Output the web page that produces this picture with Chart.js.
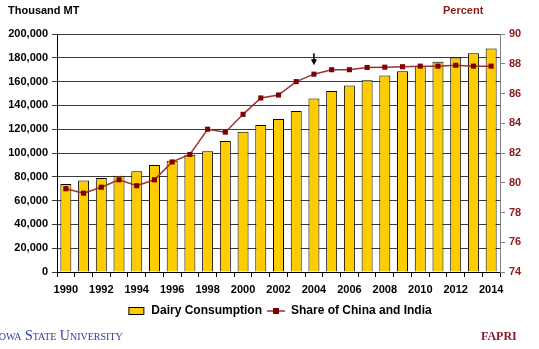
<!DOCTYPE html>
<html lang="en">
  <head>
    <meta charset="UTF-8" />
    <title>Dairy Consumption</title>
    <style>
      body {
        margin: 0;
        background-color: #ffffff;
        font-family: "Liberation Sans", Arial, sans-serif;
      }
      .wrap {
        position: relative;
        width: 539px;
        height: 349px;
        overflow: hidden;
      }
      .label {
        position: absolute;
        font-weight: bold;
        font-size: 11px;
        white-space: nowrap;
      }
      .isu {
        position: absolute;
        left: -6px;
        top: 328px;
        font-family: "Liberation Serif", "Times New Roman", serif;
        font-variant: small-caps;
        font-size: 14px;
        color: #2f3f95;
        white-space: nowrap;
      }
      .fapri {
        position: absolute;
        left: 481px;
        top: 329px;
        font-family: "Liberation Serif", "Times New Roman", serif;
        font-weight: bold;
        font-size: 12px;
        color: #8b1a2e;
      }
    </style>
  </head>
  <body>
    <div class="wrap">
      <canvas id="chart" width="539" height="349"></canvas>
      <div class="label" style="left: 8px; top: 4px">Thousand MT</div>
      <div class="label" style="left: 443px; top: 4px; color: #8b1a1a">Percent</div>
      <div class="isu">Iowa State University</div>
      <div class="fapri">FAPRI</div>
    </div>

    <script src="https://cdn.jsdelivr.net/npm/chart.js"></script>
    <script>
      var years = [
        "1990", "1991", "1992", "1993", "1994", "1995", "1996", "1997", "1998",
        "1999", "2000", "2001", "2002", "2003", "2004", "2005", "2006", "2007",
        "2008", "2009", "2010", "2011", "2012", "2013", "2014",
      ];
      // thousand metric tons
      var dairyConsumption = [
        74000, 76800, 79000, 80800, 84600, 90000, 93400, 98500, 101500, 110000,
        117900, 123500, 128500, 135300, 145700, 152200, 156700, 161200, 165100,
        168800, 173000, 176600, 180300, 183900, 187900,
      ];
      // percent
      var shareChinaIndia = [
        79.6, 79.3, 79.7, 80.2, 79.8, 80.2, 81.4, 81.9, 83.6, 83.4, 84.6, 85.7,
        85.9, 86.8, 87.3, 87.6, 87.6, 87.75, 87.77, 87.8, 87.84, 87.84, 87.9,
        87.84, 87.84,
      ];
      var arrowYear = "2004";

      var barColor = "#ffcc00";
      var lineColor = "#800000";
      var redText = "#8b1a1a";
      var font = { family: "'Liberation Sans', Arial, sans-serif", size: 11, weight: "bold" };

      // legend icons
      function makeIcon(draw) {
        var c = document.createElement("canvas");
        c.width = 18;
        c.height = 10;
        draw(c.getContext("2d"));
        return c;
      }
      var barIcon = makeIcon(function (g) {
        g.fillStyle = barColor;
        g.fillRect(1, 1, 16, 8);
        g.strokeStyle = "#000";
        g.lineWidth = 1;
        g.strokeRect(1.5, 1.5, 15, 7);
      });
      var lineIcon = makeIcon(function (g) {
        g.strokeStyle = "#993333";
        g.lineWidth = 1.5;
        g.beginPath();
        g.moveTo(0, 5);
        g.lineTo(18, 5);
        g.stroke();
        g.fillStyle = lineColor;
        g.fillRect(6, 2, 6, 6);
      });
      var icons = [barIcon, lineIcon];

      var arrowPlugin = {
        id: "arrow",
        afterLayout: function (chart) {
          // centre the legend under the plot area, not the whole canvas
          chart.legend.left += 20;
        },
        afterDatasetsDraw: function (chart) {
          var g = chart.ctx;
          var i = years.indexOf(arrowYear);
          var x = chart.scales.x.getPixelForValue(i);
          var y = chart.scales.y1.getPixelForValue(shareChinaIndia[i]) - 10;
          g.save();
          g.strokeStyle = "#000";
          g.fillStyle = "#000";
          g.lineWidth = 1.5;
          g.beginPath();
          g.moveTo(x, y - 11);
          g.lineTo(x, y - 3);
          g.stroke();
          g.beginPath();
          g.moveTo(x - 3, y - 5);
          g.lineTo(x + 3, y - 5);
          g.lineTo(x, y + 1);
          g.closePath();
          g.fill();
          g.restore();
        },
      };

      new Chart(document.getElementById("chart").getContext("2d"), {
        type: "bar",
        data: {
          labels: years,
          datasets: [
            {
              type: "bar",
              label: "Dairy Consumption",
              data: dairyConsumption,
              backgroundColor: barColor,
              borderColor: "#000",
              borderWidth: 1,
              categoryPercentage: 1,
              barPercentage: 0.62,
              yAxisID: "y",
              order: 2,
            },
            {
              type: "line",
              label: "Share of China and India",
              data: shareChinaIndia,
              borderColor: "#993333",
              borderWidth: 1.5,
              pointStyle: "rect",
              pointRadius: 3.6,
              pointBackgroundColor: lineColor,
              pointBorderColor: lineColor,
              pointBorderWidth: 0,
              tension: 0,
              yAxisID: "y1",
              order: 1,
            },
          ],
        },
        options: {
          responsive: false,
          animation: false,
          layout: { padding: { top: 34, bottom: 22, left: 0, right: 0 } },
          plugins: {
            tooltip: { enabled: false },
            legend: {
              position: "bottom",
              labels: {
                usePointStyle: true,
                pointStyleWidth: 18,
                boxHeight: 10,
                padding: 5,
                color: "#000",
                font: { family: font.family, size: 12, weight: "bold" },
                generateLabels: function (chart) {
                  return chart.data.datasets.map(function (ds, i) {
                    return {
                      text: ds.label,
                      pointStyle: icons[i],
                      datasetIndex: i,
                      fontColor: "#000",
                      lineWidth: 0,
                      hidden: false,
                    };
                  });
                },
              },
            },
          },
          scales: {
            x: {
              offset: true,
              grid: {
                offset: true,
                drawOnChartArea: false,
                color: "#000",
                tickLength: 5,
              },
              border: { color: "#000" },
              ticks: {
                autoSkip: false,
                maxRotation: 0,
                padding: 6,
                color: "#000",
                font: font,
                callback: function (value, index) {
                  return index % 2 === 0 ? years[index] : "";
                },
              },
              afterFit: function (s) {
                s.height = 28;
              },
            },
            y: {
              position: "left",
              min: 0,
              max: 200000,
              grid: { color: "#3a3a3a", tickLength: 5 },
              border: { color: "#000" },
              ticks: {
                stepSize: 20000,
                padding: 4,
                color: "#000",
                font: font,
                callback: function (v) {
                  return v.toLocaleString("en-US");
                },
              },
              afterFit: function (s) {
                s.width = 57;
              },
            },
            y1: {
              position: "right",
              min: 74,
              max: 90,
              grid: { drawOnChartArea: false, color: "#808080", tickLength: 5 },
              border: { color: "#808080" },
              ticks: {
                stepSize: 2,
                padding: 4,
                color: redText,
                font: font,
              },
              afterFit: function (s) {
                s.width = 39;
              },
            },
          },
        },
        plugins: [arrowPlugin],
      });
    </script>
  </body>
</html>
